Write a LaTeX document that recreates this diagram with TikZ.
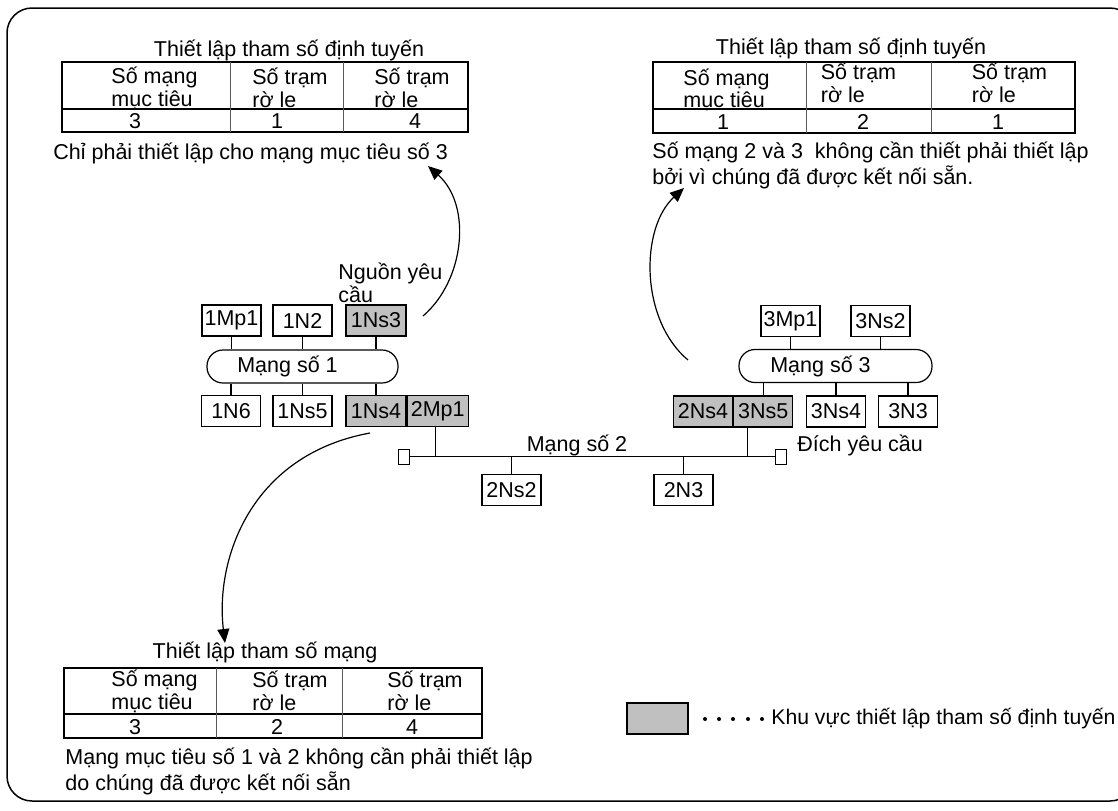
\documentclass[tikz,border=0pt]{standalone}
\usepackage{fontspec}
\setmainfont{Liberation Sans}
\usetikzlibrary{arrows.meta,positioning}
\definecolor{routegray}{HTML}{C0C0C0}
\tikzset{
    station/.style={draw,line width=0.6pt,minimum width=29.5pt,minimum height=15.5pt,inner sep=0pt},
    router/.style={station,fill=routegray},
    segment/.style={draw,line width=0.6pt,rounded corners=8pt,minimum width=95.5pt,minimum height=16.5pt,inner sep=0pt},
    endcap/.style={draw,line width=0.5pt,minimum width=5.5pt,minimum height=7.5pt,inner sep=0pt},
    hop/.style={line width=0.6pt,-{Triangle[length=7pt,width=6pt]}},
    cell/.style={align=left,inner sep=0pt},
    grid/.style={line width=0.6pt},
    rule/.style={gray!70!black,line width=0.4pt},
}
\begin{document}
\begin{tikzpicture}[x=0.5pt,y=-0.5pt,font=\fontsize{10.75}{11.5}\selectfont,inner sep=0pt]
        \useasboundingbox (0,0) rectangle (1118,810);
        %% frame
        \draw[line width=0.75pt,rounded corners=12.5pt] (7,8) rectangle (1135,801);

        %% network 1
        \node[station] (mp11) at (231.5,320.5) {1Mp1};
        \node[station] (n12) at (302.5,320.5) {1N2};
        \node[router,minimum width=30pt] (ns13) at (376,320.5) {1Ns3};
        \node[segment] (net1) at (302.5,366.5) {Mạng số 1\hspace*{15pt}};
        \node[station] (n16) at (231,411) {1N6};
        \node[station] (ns15) at (302.5,411) {1Ns5};
        \node[router,minimum width=30pt] (ns14) at (376,411) {1Ns4};
        \node[router,minimum width=30.5pt,right=0pt of ns14] (mp21) {2Mp1};
        \foreach \s in {mp11,n12,ns13} \draw[grid] (\s.south) -- (\s.south |- net1.north);
        \foreach \s in {n16,ns15,ns14} \draw[grid] (\s.north) -- (\s.north |- net1.south);
        \node[cell,anchor=west] (src) at (338,283) {Nguồn yêu\\cầu};

        %% network 3
        \node[station] (mp31) at (790.5,321) {3Mp1};
        \node[station] (ns32) at (880.5,321) {3Ns2};
        \node[segment,minimum width=96.5pt] (net3) at (835.5,366) {Mạng số 3\hspace*{15pt}};
        \node[router] (ns24) at (703,411.5) {2Ns4};
        \node[router,right=0pt of ns24] (ns35) {3Ns5};
        \node[station] (ns34) at (836,411.5) {3Ns4};
        \node[station] (n33) at (908,411.5) {3N3};
        \foreach \s in {mp31,ns32} \draw[grid] (\s.south) -- (\s.south |- net3.north);
        \foreach \s in {ns35,ns34,n33} \draw[grid] (\s.north) -- (\s.north |- net3.south);

        %% network 2 (bus)
        \node[endcap] (capl) at (403.5,456.5) {};
        \node[endcap] (capr) at (780.5,456.5) {};
        \draw[grid] (capl.east) -- (capr.west);
        \node[station] (ns22) at (511.5,490) {2Ns2};
        \node[station] (n23) at (683.5,490) {2N3};
        \foreach \s in {ns22,n23} \draw[grid] (\s.north) -- (\s.north |- capl.east);
        \draw[grid] ([xshift=-1pt]mp21.south) -- ([xshift=-1pt]mp21.south |- capl.east);
        \draw[grid] ([xshift=-8pt]ns35.south) -- ([xshift=-8pt]ns35.south |- capr.west);
        \node (net2) at (577,445) {Mạng số 2};
        \node[anchor=west] (dst) at (797,445) {Đích yêu cầu};

        %% routing table at the source
        \node (rt1) at (289,50) {Thiết lập tham số định tuyến};
        \draw[grid] (62,62) rectangle (468,132) (62,109) -- (468,109);
        \draw[rule] (230,62) -- (230,132) (343,62) -- (343,132);
        \node[cell] (rt1a) at (154.5,88) {Số mạng\\mục tiêu};
        \node[cell] (rt1b) at (290,88) {Số trạm\\rờ le};
        \node[cell] (rt1c) at (412,88) {Số trạm\\rờ le};
        \foreach \x/\v [count=\i] in {135/3,277/1,415/4} \node (rt1v\i) at (\x,121) {\v};
        \node[anchor=west] (rt1n) at (53,153) {Chỉ phải thiết lập cho mạng mục tiêu số 3};

        %% routing table at the destination
        \node (rt3) at (851,48) {Thiết lập tham số định tuyến};
        \draw[grid] (653,62) rectangle (1075,133) (653,109) -- (1075,109);
        \draw[rule] (806,62) -- (806,133) (931,62) -- (931,133);
        \node[cell,font=\fontsize{10.75}{8.5}\selectfont] (rt3a) at (726.5,90) {Số mạng\\mục tiêu};
        \node[cell] (rt3b) at (858.5,83) {Số trạm\\rờ le};
        \node[cell] (rt3c) at (1009.5,83) {Số trạm\\rờ le};
        \foreach \x/\v [count=\i] in {723/1,863/2,998/1} \node (rt3v\i) at (\x,122) {\v};
        \node[cell,anchor=north west] (rt3n) at (652,142) {Số mạng 2 và 3\ \ không cần thiết phải thiết lập\\bởi vì chúng đã được kết nối sẵn.};

        %% network table at the relay
        \node (nt2) at (265,652) {Thiết lập tham số mạng};
        \draw[grid] (64,668) rectangle (482,738) (64,714) -- (482,714);
        \draw[rule] (216,668) -- (216,738) (342,668) -- (342,738);
        \node[cell] (nt2a) at (154.5,691) {Số mạng\\mục tiêu};
        \node[cell] (nt2b) at (290,691) {Số trạm\\rờ le};
        \node[cell] (nt2c) at (425,691) {Số trạm\\rờ le};
        \foreach \x/\v [count=\i] in {135/3,277/2,412/4} \node (nt2v\i) at (\x,727) {\v};
        \node[cell,anchor=north west] (nt2n) at (65,748) {Mạng mục tiêu số 1 và 2 không cần phải thiết lập\\do chúng đã được kết nối sẵn};

        %% where the tables go
        \coordinate (a1) at (423,316);
        \coordinate (b1) at (428,166);
        \draw[hop] (a1) .. controls (465,280) and (472,205) .. (b1);
        \coordinate (a3) at (688,360);
        \coordinate (b3) at (684,188);
        \draw[hop] (a3) .. controls (640,320) and (640,228) .. (b3);
        \coordinate (a2) at (370,433);
        \coordinate (b2) at (225,643);
        \draw[hop] (a2) .. controls (250,455) and (215,560) .. (b2);

        %% key
        \node[router,minimum width=30.5pt] (key) at (657.5,718.5) {};
        \foreach \x in {705,719,733,748,762} \fill (\x,719) circle (1pt);
        \node[anchor=west,font=\fontsize{10.6}{11.5}\selectfont] (keytext) at (771,719) {Khu vực thiết lập tham số định tuyến};
    \end{tikzpicture}
\end{document}
